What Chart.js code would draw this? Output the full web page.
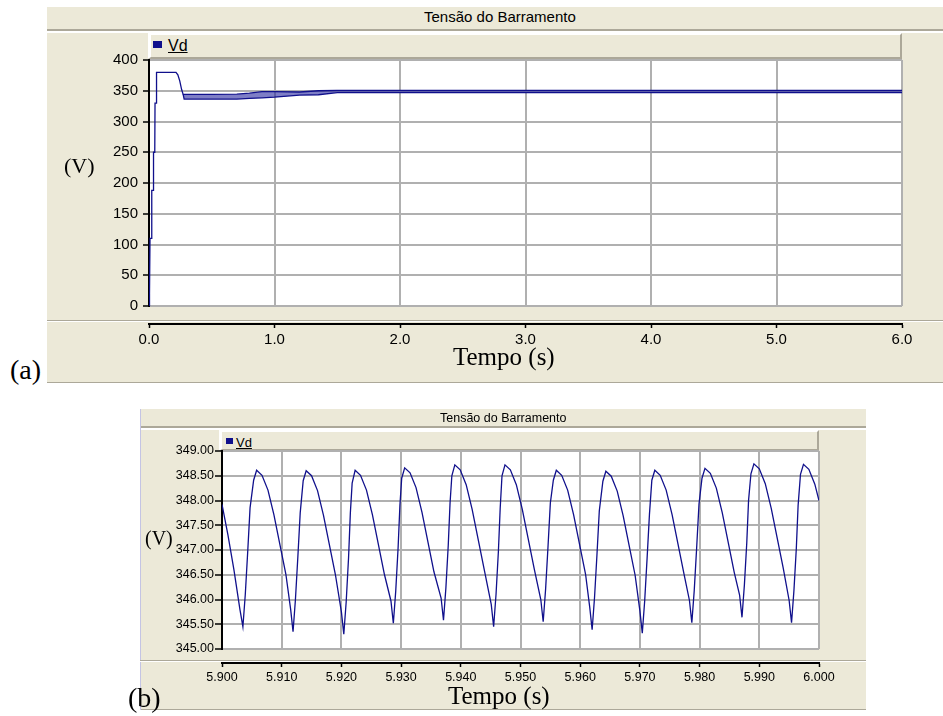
<!DOCTYPE html>
<html>
<head>
<meta charset="utf-8">
<script src="https://cdn.jsdelivr.net/npm/chart.js@4.4.1/dist/chart.umd.min.js"></script>
<style>
    body { margin: 0; background: #fff; width: 943px; height: 716px; position: relative; overflow: hidden; font-family: "Liberation Sans", Arial, sans-serif; }
    .painel { position: absolute; background: #ece9d8; }
    .barra-titulo { position: absolute; background: #ece9d8; border-bottom: 2px solid #aca899; box-sizing: border-box; }
    .titulo { position: absolute; white-space: nowrap; line-height: 1; color: #000; }
    .barra-legenda { position: absolute; background: #ece9d8; box-sizing: border-box; border-left: 3px solid #fff; border-top: 2px solid #fff; border-right: 2px solid #aca899; border-bottom: 2px solid #aca899; }
    .quadrado { position: absolute; background: #10108c; }
    .vd { position: absolute; line-height: 1; text-decoration: underline; color: #000; }
    .separador { position: absolute; height: 1px; background: #aca899; border-bottom: 1px solid #fff; }
    .serif { position: absolute; font-family: "Liberation Serif", "Times New Roman", serif; line-height: 1; white-space: nowrap; color: #000; }
    canvas { position: absolute; }
</style>
</head>
<body>
<!-- (a) -->
<div class="barra-titulo" style="left:47px; top:7px; width:896px; height:24px;"></div>
<div class="titulo" style="left:424px; top:9px; font-size:15px;">Tensão do Barramento</div>
<div class="painel" style="left:47px; top:33px; width:896px; height:350px; border-bottom:1px solid #aca899; box-sizing:border-box;"></div>
<div class="barra-legenda" style="left:148px; top:33px; width:754px; height:26px;"></div>
<div class="quadrado" style="left:153px; top:41px; width:9px; height:7px;"></div>
<div class="vd" style="left:168px; top:38px; font-size:16px;">Vd</div>
<div class="separador" style="left:47px; top:320px; width:896px;"></div>
<canvas id="graficoA" width="896" height="350" style="left:47px; top:33px;"></canvas>
<div class="serif" style="left:64px; top:155px; font-size:22px;">(V)</div>
<div class="serif" style="left:453px; top:344px; font-size:25px;">Tempo (s)</div>
<div class="serif" style="left:10px; top:356px; font-size:28px;">(a)</div>

<!-- (b) -->
<div class="barra-titulo" style="left:140px; top:409px; width:726px; height:19px;"></div>
<div class="titulo" style="left:440px; top:412px; font-size:12.5px;">Tensão do Barramento</div>
<div class="painel" style="left:140px; top:430px; width:726px; height:280px; border-bottom:1px solid #aca899; box-sizing:border-box;"></div>
<div class="painel" style="left:140px; top:409px; width:1px; height:301px; background:#c4c4e4;"></div>
<div class="barra-legenda" style="left:219px; top:430px; width:600px; height:21px;"></div>
<div class="quadrado" style="left:226px; top:438px; width:7px; height:6px;"></div>
<div class="vd" style="left:236px; top:436px; font-size:13px;">Vd</div>
<div class="separador" style="left:140px; top:660px; width:726px;"></div>
<canvas id="graficoB" width="725" height="280" style="left:141px; top:430px;"></canvas>
<div class="serif" style="left:145px; top:528px; font-size:20px;">(V)</div>
<div class="serif" style="left:448px; top:683px; font-size:25px;">Tempo (s)</div>
<div class="serif" style="left:128px; top:684px; font-size:28px;">(b)</div>

<script>
// (a) partida + envelope superior da ondulação (s, V)
const tempoA = [0, 0.004, 0.008, 0.02, 0.022, 0.034, 0.036, 0.046, 0.048, 0.058, 0.06,
    0.215, 0.23, 0.245, 0.26, 0.272,
    0.3, 0.5, 0.7, 0.8, 0.9, 1.0, 1.2, 1.35, 1.5, 1.6, 2.0, 3.0, 4.0, 5.0, 6.0];
const vdA = [0, 20, 110, 110, 188, 188, 250, 250, 330, 330, 380,
    380, 376, 366, 352, 344,
    344, 344, 344.5, 346, 348.5, 348.5, 348, 350, 350.5, 350.5, 350.5, 350.5, 350.5, 350.5, 350.5];
// (a) envelope inferior da ondulação
const tempoMinA = [0.272, 0.28, 0.5, 0.7, 0.8, 0.9, 1.0, 1.2, 1.35, 1.5, 1.6, 2.0, 6.0];
const vdMinA = [344, 336.5, 336.5, 336.5, 337.5, 338.5, 339.5, 343, 343.5, 347, 347, 347, 347];

// (b) detalhe 5.9 - 6.0 s
const tempoB = [
    5.9000, 5.9010, 5.9020, 5.9030,
    5.9035, 5.9039, 5.9043, 5.9047, 5.9053, 5.9058, 5.9067, 5.9077, 5.9087, 5.9097, 5.9107, 5.9115,
    5.9119, 5.9123, 5.9127, 5.9131, 5.9136, 5.9141, 5.9150, 5.9160, 5.9170, 5.9180, 5.9190, 5.9200,
    5.9204, 5.9208, 5.9212, 5.9215, 5.9218, 5.9223, 5.9232, 5.9242, 5.9252, 5.9262, 5.9272, 5.9283,
    5.9287, 5.9291, 5.9295, 5.9298, 5.9301, 5.9306, 5.9315, 5.9325, 5.9335, 5.9345, 5.9355, 5.9367,
    5.9371, 5.9375, 5.9379, 5.9382, 5.9385, 5.9390, 5.9399, 5.9409, 5.9419, 5.9429, 5.9439, 5.9451,
    5.9455, 5.9459, 5.9463, 5.9466, 5.9469, 5.9474, 5.9483, 5.9493, 5.9503, 5.9513, 5.9523, 5.9534,
    5.9538, 5.9542, 5.9546, 5.9550, 5.9555, 5.9560, 5.9569, 5.9579, 5.9589, 5.9599, 5.9609, 5.9616,
    5.9620, 5.9624, 5.9628, 5.9632, 5.9638, 5.9643, 5.9652, 5.9662, 5.9672, 5.9682, 5.9692, 5.9700,
    5.9704, 5.9708, 5.9712, 5.9716, 5.9720, 5.9725, 5.9734, 5.9744, 5.9754, 5.9764, 5.9774, 5.9783,
    5.9787, 5.9791, 5.9795, 5.9799, 5.9804, 5.9809, 5.9818, 5.9828, 5.9838, 5.9848, 5.9858, 5.9867,
    5.9871, 5.9875, 5.9879, 5.9882, 5.9886, 5.9891, 5.9900, 5.9910, 5.9920, 5.9930, 5.9940, 5.9950,
    5.9954, 5.9958, 5.9962, 5.9965, 5.9969, 5.9974, 5.9983, 5.9993, 6.0000
];
const vdB = [
    347.92, 347.30, 346.60, 345.80,
    345.45, 346.10, 346.95, 347.85, 348.41, 348.61, 348.51, 348.21, 347.71, 347.11, 346.51, 345.80,
    345.35, 346.00, 346.85, 347.75, 348.40, 348.60, 348.50, 348.20, 347.70, 347.10, 346.50, 345.75,
    345.30, 345.95, 346.85, 347.75, 348.35, 348.61, 348.51, 348.21, 347.71, 347.11, 346.51, 345.97,
    345.52, 346.17, 347.05, 347.90, 348.45, 348.66, 348.56, 348.26, 347.76, 347.16, 346.56, 346.03,
    345.58, 346.23, 347.10, 347.95, 348.50, 348.72, 348.62, 348.32, 347.82, 347.22, 346.62, 345.90,
    345.45, 346.10, 346.98, 347.85, 348.50, 348.72, 348.62, 348.32, 347.82, 347.22, 346.62, 346.00,
    345.55, 346.20, 347.05, 347.95, 348.41, 348.61, 348.51, 348.21, 347.71, 347.11, 346.51, 345.84,
    345.39, 346.04, 346.89, 347.79, 348.39, 348.59, 348.49, 348.19, 347.69, 347.09, 346.49, 345.77,
    345.32, 345.97, 346.82, 347.72, 348.41, 348.61, 348.51, 348.21, 347.71, 347.11, 346.51, 345.98,
    345.53, 346.18, 347.03, 347.93, 348.45, 348.65, 348.55, 348.25, 347.75, 347.15, 346.55, 346.09,
    345.64, 346.29, 347.14, 348.00, 348.54, 348.74, 348.64, 348.34, 347.84, 347.24, 346.64, 345.98,
    345.53, 346.18, 347.03, 347.90, 348.53, 348.73, 348.63, 348.33, 348.00
];

// limites dos eixos
const eixoXA = [0, 6, 1];
const eixoYA = [0, 400, 50];
const eixoXB = [5.9, 6.0, 0.01];
const eixoYB = [345, 349, 0.5];

const corLinha = '#10108c';
const corGrade = '#b0b0b0';
Chart.defaults.font.family = "'Liberation Sans', Arial, sans-serif";

// fundo branco só na área do gráfico
const fundoBranco = {
    id: 'fundoBranco',
    beforeDraw(chart) {
        const a = chart.chartArea;
        chart.ctx.save();
        chart.ctx.fillStyle = '#fff';
        chart.ctx.fillRect(a.left, a.top, a.right - a.left, a.bottom - a.top);
        chart.ctx.restore();
    }
};

function pares(xs, ys) {
    return xs.map((x, i) => ({x: x, y: ys[i]}));
}

function escalas(ex, ey, p) {
    return {
        x: {
            type: 'linear', min: ex[0], max: ex[1],
            ticks: {display: false, stepSize: ex[2]},
            grid: {drawTicks: false, lineWidth: 2, color: c => c.index === 0 ? 'rgba(0,0,0,0)' : corGrade},
            border: {display: false},
            afterFit: s => { s.height = p.gap; }
        },
        x2: {
            type: 'linear', position: 'bottom', weight: 1, min: ex[0], max: ex[1],
            ticks: {stepSize: ex[2], color: '#000', font: {size: p.fonte}, padding: 3, maxRotation: 0, autoSkip: false,
                callback: v => v.toFixed(p.decX)},
            grid: {drawOnChartArea: false, tickLength: 4, tickColor: '#000', tickWidth: 1.5},
            border: {color: '#000', width: 2},
            afterFit: s => { s.height = p.alturaX; }
        },
        y: {
            min: ey[0], max: ey[1],
            ticks: {stepSize: ey[2], color: '#000', font: {size: p.fonte}, padding: p.padY, autoSkip: false,
                callback: v => v.toFixed(p.decY)},
            grid: {color: corGrade, lineWidth: 2, tickLength: p.tickY, tickColor: '#000', tickWidth: 1.5},
            border: {color: '#000', width: 2},
            afterFit: s => { s.width = p.larguraY; }
        }
    };
}

//------ (a) 0 - 6 s ------
new Chart(document.getElementById('graficoA'), {
    type: 'line',
    data: {
        datasets: [
            {label: 'Vd', data: pares(tempoA, vdA), borderColor: corLinha, borderWidth: 1.3, pointRadius: 0, fill: false},
            {label: 'Vd min', data: pares(tempoMinA, vdMinA), borderColor: corLinha, borderWidth: 1.3, pointRadius: 0,
                fill: '-1', backgroundColor: 'rgba(40,40,160,0.6)'}
        ]
    },
    options: {
        responsive: false, animation: false, devicePixelRatio: 1,
        layout: {padding: {top: 27, right: 41, left: 0, bottom: 0}},
        plugins: {legend: {display: false}, tooltip: {enabled: false}},
        scales: escalas(eixoXA, eixoYA, {gap: 18, alturaX: 59, larguraY: 102, fonte: 15, padY: 5, tickY: 6, decX: 1, decY: 0})
    },
    plugins: [fundoBranco]
});

//------ (b) 5.9 - 6.0 s ------
new Chart(document.getElementById('graficoB'), {
    type: 'line',
    data: {
        datasets: [
            {label: 'Vd', data: pares(tempoB, vdB), borderColor: corLinha, borderWidth: 1.3, pointRadius: 0, fill: false}
        ]
    },
    options: {
        responsive: false, animation: false, devicePixelRatio: 1,
        layout: {padding: {top: 21, right: 47, left: 0, bottom: 0}},
        plugins: {legend: {display: false}, tooltip: {enabled: false}},
        scales: escalas(eixoXB, eixoYB, {gap: 14, alturaX: 47, larguraY: 81, fonte: 12.5, padY: 1, tickY: 7, decX: 3, decY: 2})
    },
    plugins: [fundoBranco]
});
</script>
</body>
</html>
